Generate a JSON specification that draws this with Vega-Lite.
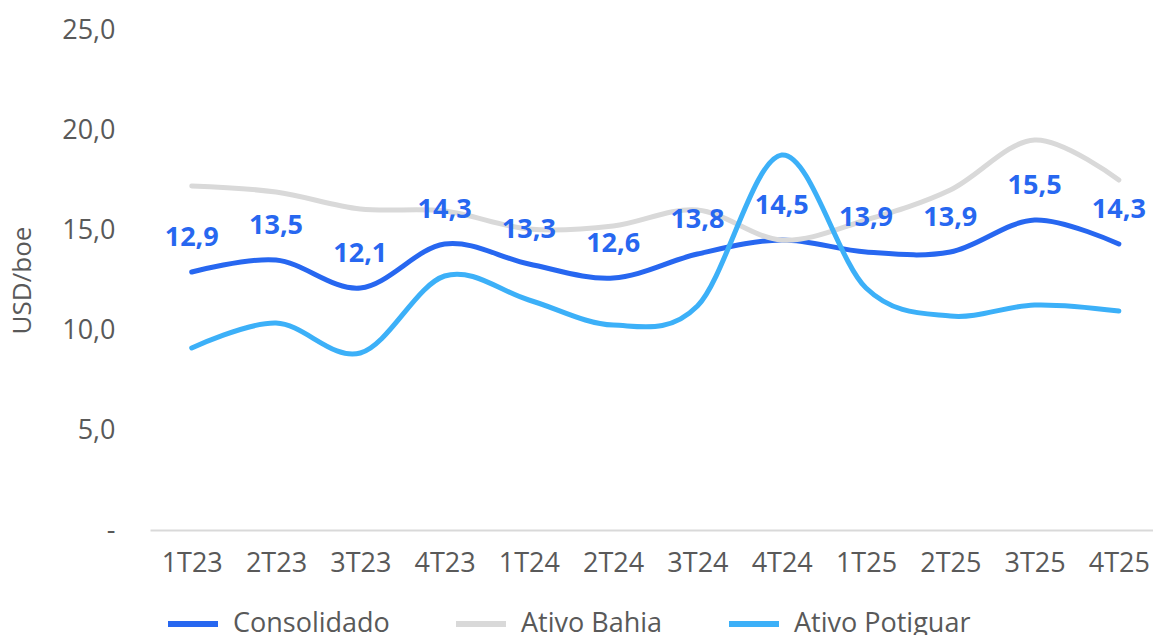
{
  "$schema": "https://vega.github.io/schema/vega-lite/v6.json",
  "width": 1003,
  "height": 500,
  "autosize": {"type": "none"},
  "padding": {"left": 150, "top": 30, "right": 0, "bottom": 105},
  "background": "#ffffff",
  "config": {
    "locale": {
      "number": {"decimal": ",", "thousands": ".", "grouping": [3], "currency": ["R$", ""]}
    },
    "font": "Open Sans",
    "view": {"stroke": null}
  },
  "data": {
    "values": [
      {"trimestre": "1T23", "serie": "Consolidado", "valor": 12.9},
      {"trimestre": "2T23", "serie": "Consolidado", "valor": 13.5},
      {"trimestre": "3T23", "serie": "Consolidado", "valor": 12.1},
      {"trimestre": "4T23", "serie": "Consolidado", "valor": 14.3},
      {"trimestre": "1T24", "serie": "Consolidado", "valor": 13.3},
      {"trimestre": "2T24", "serie": "Consolidado", "valor": 12.6},
      {"trimestre": "3T24", "serie": "Consolidado", "valor": 13.8},
      {"trimestre": "4T24", "serie": "Consolidado", "valor": 14.5},
      {"trimestre": "1T25", "serie": "Consolidado", "valor": 13.9},
      {"trimestre": "2T25", "serie": "Consolidado", "valor": 13.9},
      {"trimestre": "3T25", "serie": "Consolidado", "valor": 15.5},
      {"trimestre": "4T25", "serie": "Consolidado", "valor": 14.3},
      {"trimestre": "1T23", "serie": "Ativo Bahia", "valor": 17.2},
      {"trimestre": "2T23", "serie": "Ativo Bahia", "valor": 16.9},
      {"trimestre": "3T23", "serie": "Ativo Bahia", "valor": 16.05},
      {"trimestre": "4T23", "serie": "Ativo Bahia", "valor": 15.95},
      {"trimestre": "1T24", "serie": "Ativo Bahia", "valor": 15.05},
      {"trimestre": "2T24", "serie": "Ativo Bahia", "valor": 15.2},
      {"trimestre": "3T24", "serie": "Ativo Bahia", "valor": 16.0},
      {"trimestre": "4T24", "serie": "Ativo Bahia", "valor": 14.5},
      {"trimestre": "1T25", "serie": "Ativo Bahia", "valor": 15.5},
      {"trimestre": "2T25", "serie": "Ativo Bahia", "valor": 17.0},
      {"trimestre": "3T25", "serie": "Ativo Bahia", "valor": 19.5},
      {"trimestre": "4T25", "serie": "Ativo Bahia", "valor": 17.5},
      {"trimestre": "1T23", "serie": "Ativo Potiguar", "valor": 9.1},
      {"trimestre": "2T23", "serie": "Ativo Potiguar", "valor": 10.35},
      {"trimestre": "3T23", "serie": "Ativo Potiguar", "valor": 8.85},
      {"trimestre": "4T23", "serie": "Ativo Potiguar", "valor": 12.7},
      {"trimestre": "1T24", "serie": "Ativo Potiguar", "valor": 11.5},
      {"trimestre": "2T24", "serie": "Ativo Potiguar", "valor": 10.25},
      {"trimestre": "3T24", "serie": "Ativo Potiguar", "valor": 11.2},
      {"trimestre": "4T24", "serie": "Ativo Potiguar", "valor": 18.75},
      {"trimestre": "1T25", "serie": "Ativo Potiguar", "valor": 12.1},
      {"trimestre": "2T25", "serie": "Ativo Potiguar", "valor": 10.7},
      {"trimestre": "3T25", "serie": "Ativo Potiguar", "valor": 11.25},
      {"trimestre": "4T25", "serie": "Ativo Potiguar", "valor": 10.95}
    ]
  },
  "encoding": {
    "x": {
      "field": "trimestre",
      "type": "ordinal",
      "sort": null,
      "scale": {"type": "point", "padding": 0.45, "align": 0.55},
      "axis": {
        "title": null,
        "domainColor": "#d9d9d9",
        "domainWidth": 2,
        "ticks": false,
        "labelAngle": 0,
        "labelFont": "Open Sans",
        "labelFontSize": 27,
        "labelColor": "#595959",
        "labelPadding": 20,
        "labelBaseline": "top"
      }
    },
    "y": {
      "field": "valor",
      "type": "quantitative",
      "scale": {"domain": [0, 25], "nice": false},
      "axis": {
        "title": "USD/boe",
        "titleFont": "Open Sans",
        "titleFontSize": 26,
        "titleFontWeight": "normal",
        "titleColor": "#595959",
        "titleAngle": 270,
        "titleX": -128,
        "titleY": 250,
        "titleAlign": "center",
        "titleBaseline": "middle",
        "values": [0, 5, 10, 15, 20, 25],
        "format": ".1f",
        "labelExpr": "datum.value === 0 ? '-' : datum.label",
        "labelFont": "Open Sans",
        "labelFontSize": 27,
        "labelColor": "#595959",
        "labelPadding": 35,
        "ticks": false,
        "domain": false,
        "grid": false
      }
    }
  },
  "layer": [
    {
      "mark": {"type": "line", "interpolate": "cardinal", "tension": 0, "strokeWidth": 5, "strokeCap": "round"},
      "encoding": {
        "color": {
          "field": "serie",
          "type": "nominal",
          "sort": null,
          "scale": {
            "domain": ["Consolidado", "Ativo Bahia", "Ativo Potiguar"],
            "range": ["#2767f0", "#d9d9d9", "#3cb0f8"]
          },
          "legend": {
            "title": null,
            "orient": "none",
            "direction": "horizontal",
            "legendX": 15,
            "legendY": 566,
            "symbolType": "stroke",
            "symbolSize": 2500,
            "symbolStrokeWidth": 6,
            "labelFont": "Open Sans",
            "labelFontSize": 27,
            "labelColor": "#595959",
            "labelOffset": 12,
            "columnPadding": 54,
            "labelLimit": 400
          }
        }
      }
    },
    {
      "transform": [{"filter": "datum.serie === 'Consolidado'"}],
      "mark": {"type": "text", "dy": -34, "fontSize": 27, "fontWeight": "bold", "font": "Open Sans", "color": "#2767f0", "baseline": "middle"},
      "encoding": {
        "text": {"field": "valor", "type": "quantitative", "format": ".1f"}
      }
    }
  ]
}
